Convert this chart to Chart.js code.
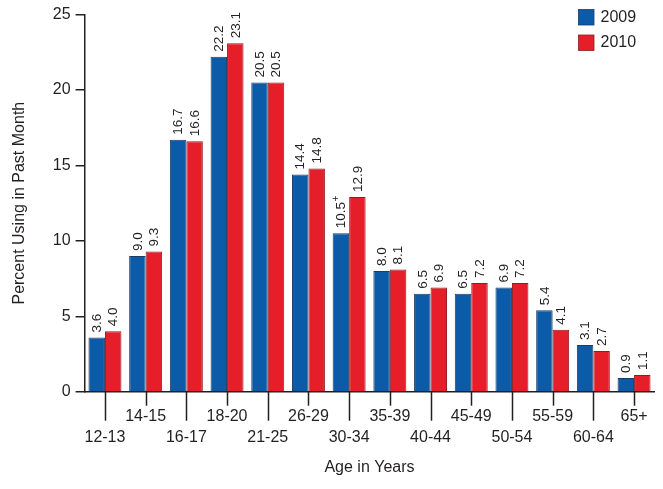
<!DOCTYPE html>
<html>
<head>
<meta charset="utf-8">
<script src="https://cdn.jsdelivr.net/npm/chart.js@4/dist/chart.umd.min.js"></script>
<style>
  html, body { margin: 0; padding: 0; background: #ffffff; }
  #wrap { width: 663px; height: 489px; position: relative; }
</style>
</head>
<body>
<div id="wrap"><canvas id="c" width="663" height="489"></canvas></div>
<script>
// ---- data ----
const categories = ['12-13','14-15','16-17','18-20','21-25','26-29','30-34','35-39','40-44','45-49','50-54','55-59','60-64','65+'];
const seriesNames = ['2009', '2010'];
const values2009 = [3.6, 9.0, 16.7, 22.2, 20.5, 14.4, 10.5, 8.0, 6.5, 6.5, 6.9, 5.4, 3.1, 0.9];
const values2010 = [4.0, 9.3, 16.6, 23.1, 20.5, 14.8, 12.9, 8.1, 6.9, 7.2, 7.2, 4.1, 2.7, 1.1];
const notes2009 = ['', '', '', '', '', '', '+', '', '', '', '', '', '', ''];
const notes2010 = ['', '', '', '', '', '', '', '', '', '', '', '', '', ''];
const yTicks = [0, 5, 10, 15, 20, 25];
const yTitle = 'Percent Using in Past Month';
const xTitle = 'Age in Years';

const FONT = "'Liberation Sans', Arial, sans-serif";
const INK = '#231f20';
const BLUE = '#0c5ba8';
const RED = '#e61e29';

const notes = [notes2009, notes2010];

const xTickPlugin = {
  id: 'xTickMarks',
  afterDraw(chart) {
    const ctx = chart.ctx;
    const xs = chart.scales.x;
    const bottom = chart.chartArea.bottom;
    ctx.save();
    ctx.strokeStyle = INK;
    ctx.lineWidth = 1.5;
    categories.forEach((c, i) => {
      const x = Math.round(xs.getPixelForValue(i)) + 0.5;
      const len = (i % 2 === 0) ? 29 : 14;
      ctx.beginPath();
      ctx.moveTo(x, bottom);
      ctx.lineTo(x, bottom + len);
      ctx.stroke();
    });
    ctx.restore();
  }
};

const valueLabelPlugin = {
  id: 'valueLabels',
  afterDatasetsDraw(chart) {
    const ctx = chart.ctx;
    ctx.save();
    ctx.fillStyle = INK;
    chart.data.datasets.forEach((ds, di) => {
      const meta = chart.getDatasetMeta(di);
      meta.data.forEach((bar, i) => {
        const txt = ds.data[i].toFixed(1);
        ctx.save();
        ctx.translate(bar.x + 0.5, bar.y - 5);
        ctx.rotate(-Math.PI / 2);
        ctx.font = '13.5px ' + FONT;
        ctx.textAlign = 'left';
        ctx.textBaseline = 'middle';
        ctx.fillText(txt, 0, 0);
        const n = notes[di][i];
        if (n) {
          const w = ctx.measureText(txt).width;
          ctx.font = '10px ' + FONT;
          ctx.fillText(n, w + 0.5, -5);
        }
        ctx.restore();
      });
    });
    ctx.restore();
  }
};

const legendPlugin = {
  id: 'customLegend',
  afterDraw(chart) {
    const ctx = chart.ctx;
    ctx.save();
    chart.data.datasets.forEach((ds, i) => {
      const y = 9.5 + i * 25.5;
      ctx.fillStyle = ds.backgroundColor;
      ctx.fillRect(578.5, y, 15.5, 15.5);
      ctx.strokeStyle = ds.borderColor;
      ctx.lineWidth = 0.8;
      ctx.strokeRect(578.5, y, 15.5, 15.5);
      ctx.fillStyle = INK;
      ctx.font = '16px ' + FONT;
      ctx.textAlign = 'left';
      ctx.textBaseline = 'middle';
      ctx.fillText(ds.label, 600.5, y + 8);
    });
    ctx.restore();
  }
};

new Chart(document.getElementById('c'), {
  type: 'bar',
  data: {
    labels: categories,
    datasets: [
      { label: seriesNames[0], data: values2009, backgroundColor: BLUE, borderColor: '#1d3c63', borderWidth: 1 },
      { label: seriesNames[1], data: values2010, backgroundColor: RED, borderColor: '#8e1c22', borderWidth: 1 }
    ]
  },
  options: {
    responsive: false,
    animation: false,
    devicePixelRatio: 1,
    layout: { padding: { left: 0, top: 13.3, right: 8.6, bottom: 0 } },
    datasets: { bar: { categoryPercentage: 0.81, barPercentage: 1.0 } },
    plugins: {
      legend: { display: false },
      tooltip: { enabled: false }
    },
    scales: {
      x: {
        offset: true,
        grid: { display: false, drawTicks: false, offset: false },
        border: { display: true, color: INK, width: 1.5 },
        ticks: {
          autoSkip: false,
          maxRotation: 0,
          minRotation: 0,
          padding: 14.7,
          color: INK,
          font: { family: FONT, size: 16, lineHeight: 1.29 },
          callback: (v, i) => (i % 2 === 0) ? ['', categories[i]] : [categories[i], '']
        },
        title: {
          display: true,
          text: xTitle,
          color: INK,
          font: { family: FONT, size: 16, lineHeight: 1.2 },
          padding: { top: 0, bottom: 11.4 }
        },
        afterFit: (s) => { s.height = 97.3; }
      },
      y: {
        min: 0,
        max: 25,
        afterBuildTicks: (s) => { s.ticks = yTicks.map(v => ({ value: v })); },
        grid: { drawOnChartArea: false, drawTicks: true, tickLength: 9, color: INK, lineWidth: 1.5 },
        border: { display: true, color: INK, width: 1.5 },
        ticks: {
          padding: 5,
          color: INK,
          font: { family: FONT, size: 16 }
        },
        title: {
          display: true,
          text: yTitle,
          color: INK,
          font: { family: FONT, size: 16, lineHeight: 1.2 },
          padding: { top: 10.4, bottom: 0 }
        },
        afterFit: (s) => { s.width = 84.6; }
      }
    }
  },
  plugins: [xTickPlugin, valueLabelPlugin, legendPlugin]
});
</script>
</body>
</html>
